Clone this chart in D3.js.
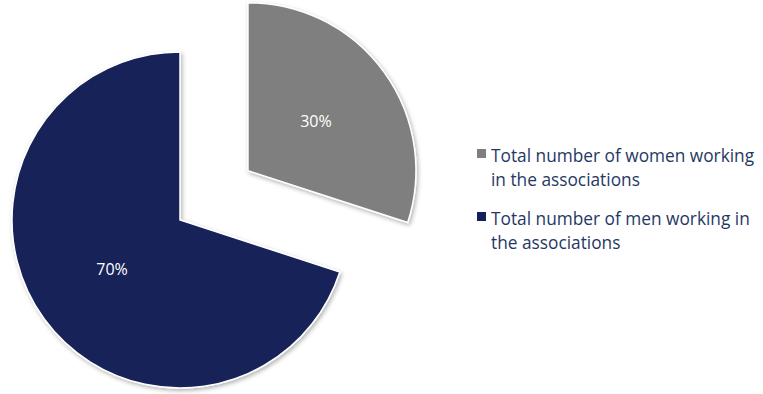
<!DOCTYPE html>
<html><head><meta charset="utf-8">
<script src="https://cdn.jsdelivr.net/npm/d3@7"></script>
<style>body{margin:0;background:#fff}svg{display:block}</style>
</head><body>
<svg id="c" width="763" height="394"></svg>
<script>
const categories = ["Total number of women working in the associations", "Total number of men working in the associations"];
const values = [30, 70];
const labels = ["30%", "70%"];
const legendLines = [["Total number of women working", "in the associations"], ["Total number of men working in", "the associations"]];
const colors = ["#7f7f7f", "#142059"];

const svg = d3.select("#c");
const defs = svg.append("defs");
const f = defs.append("filter").attr("id","sh").attr("x","-20%").attr("y","-20%").attr("width","140%").attr("height","140%");
f.append("feDropShadow").attr("dx",1.5).attr("dy",2).attr("stdDeviation",2).attr("flood-color","#000").attr("flood-opacity",0.3);

const cx = 180, cy = 220, r = 168, explode = [84, 0];
const pie = d3.pie().sort(null).value(d => d)(values);
const arc = d3.arc().innerRadius(0).outerRadius(r);
const labelArc = d3.arc().innerRadius(r*0.5).outerRadius(r*0.5);
const g = svg.append("g").attr("transform", `translate(${cx},${cy})`);
pie.forEach((p, i) => {
  const mid = (p.startAngle + p.endAngle) / 2;
  const dx = Math.sin(mid) * explode[i], dy = -Math.cos(mid) * explode[i];
  const sg = g.append("g").attr("transform", `translate(${dx},${dy})`);
  sg.append("path").attr("d", arc(p)).attr("fill", colors[i]).attr("stroke", "#fff").attr("stroke-width", 1.5).attr("filter","url(#sh)");
  const c = labelArc.centroid(p);
  sg.append("text").attr("x", c[0]).attr("y", c[1]).attr("text-anchor","middle").attr("dominant-baseline","central")
    .attr("font-family","'Open Sans', sans-serif").attr("font-size",16).attr("fill","#fff").text(labels[i]);
});

const lg = svg.append("g").attr("transform","translate(477,0)");
const ys = [162, 225];
categories.forEach((c, i) => {
  lg.append("rect").attr("x",0).attr("y",ys[i]-13).attr("width",9).attr("height",9).attr("fill",colors[i]);
  legendLines[i].forEach((t, j) => {
    lg.append("text").attr("x",14).attr("y",ys[i]+j*24).attr("font-family","'Open Sans', sans-serif").attr("font-size",17.3).attr("fill","#1f3864").text(t);
  });
});
</script>
</body></html>
